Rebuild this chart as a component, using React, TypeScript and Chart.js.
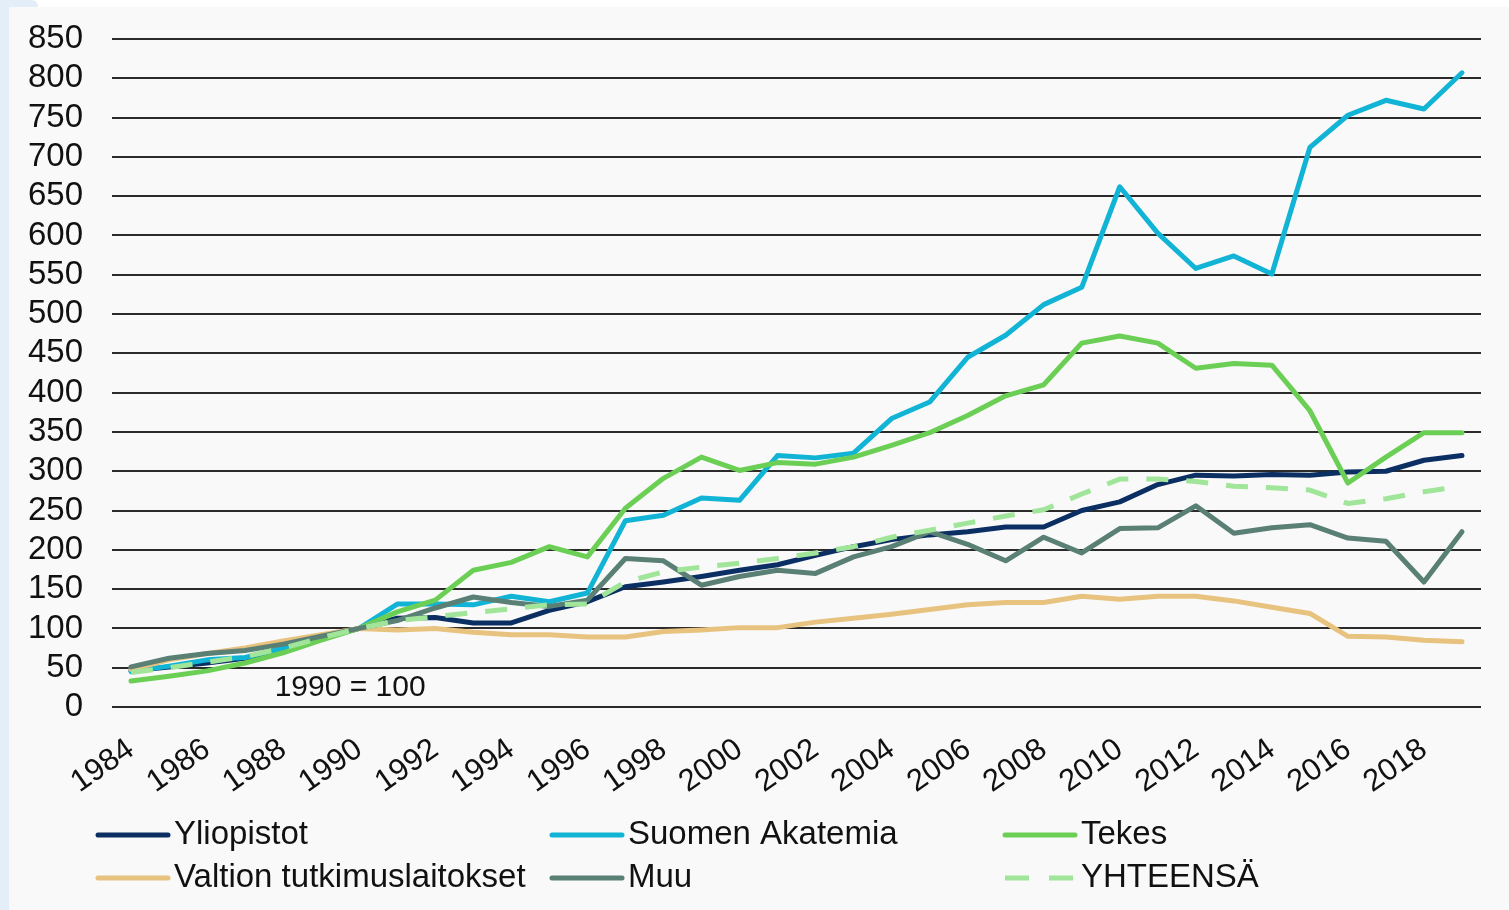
import { useEffect, useRef } from "react";
import { Chart, registerables } from "chart.js";
Chart.register(...registerables);

const years = [
  "1984", "1985", "1986", "1987", "1988", "1989", "1990", "1991", "1992", "1993",
  "1994", "1995", "1996", "1997", "1998", "1999", "2000", "2001", "2002", "2003",
  "2004", "2005", "2006", "2007", "2008", "2009", "2010", "2011", "2012", "2013",
  "2014", "2015", "2016", "2017", "2018", "2019",
];

const yliopistot = [46, 51, 56, 62, 74, 87, 100, 113, 114, 107, 107, 123, 134, 153, 159, 166, 174, 181, 193, 204, 213, 219, 223, 229, 229, 250, 261, 283, 295, 294, 296, 295, 299, 300, 314, 320];
const suomenAkatemia = [45, 52, 60, 63, 75, 88, 100, 131, 131, 130, 141, 134, 145, 237, 244, 266, 263, 320, 317, 323, 367, 388, 445, 473, 512, 534, 662, 603, 558, 574, 551, 712, 753, 772, 761, 807];
const tekes = [33, 39, 46, 56, 69, 85, 100, 121, 136, 174, 184, 204, 191, 253, 291, 318, 301, 311, 309, 318, 333, 349, 371, 396, 410, 463, 472, 463, 431, 437, 435, 377, 285, 318, 349, 349];
const valtion = [48, 60, 68, 75, 84, 92, 100, 98, 100, 95, 92, 92, 89, 89, 96, 98, 101, 101, 108, 113, 118, 124, 130, 133, 133, 141, 137, 141, 141, 135, 127, 119, 90, 89, 85, 83];
const muu = [51, 62, 68, 72, 80, 90, 100, 110, 126, 140, 133, 128, 136, 189, 186, 155, 166, 174, 170, 191, 204, 223, 207, 186, 216, 196, 227, 228, 256, 221, 228, 232, 215, 211, 159, 223];
const yhteensa = [44, 50, 57, 64, 75, 88, 100, 110, 115, 120, 125, 130, 131, 159, 172, 178, 183, 189, 196, 204, 216, 225, 234, 243, 251, 271, 290, 290, 287, 281, 279, 276, 259, 265, 274, 281];

const seriesNames = ["Yliopistot", "Suomen Akatemia", "Tekes", "Valtion tutkimuslaitokset", "Muu", "YHTEENSÄ"];
const seriesColors = ["#0b2f63", "#12b4d6", "#6ccf55", "#e8c27f", "#5a7f74", "#a0e59a"];
const seriesDashed = [false, false, false, false, false, true];
const annotationText = "1990 = 100";

const FONT = "'Liberation Sans', Arial, sans-serif";

export default function App() {
  const ref = useRef<HTMLCanvasElement>(null);

  useEffect(() => {
    document.body.style.margin = "0";
    const canvas = ref.current;
    if (!canvas) return;
    const values = [yliopistot, suomenAkatemia, tekes, valtion, muu, yhteensa];

    const legendPlugin = {
      id: "customLegend",
      afterDraw(chart: any) {
        const ctx = chart.ctx;
        const colX = [96, 550, 1003];
        const rowY = [835, 878];
        ctx.save();
        chart.data.datasets.forEach((ds: any, i: number) => {
          const x = colX[i % 3];
          const y = rowY[Math.floor(i / 3)];
          const dashed = ds.borderDash && ds.borderDash.length;
          ctx.beginPath();
          ctx.strokeStyle = ds.borderColor;
          ctx.lineWidth = 5;
          ctx.lineCap = dashed ? "butt" : "round";
          ctx.setLineDash(dashed ? [24, 20] : []);
          ctx.moveTo(x + 2, y);
          ctx.lineTo(x + 72, y);
          ctx.stroke();
          ctx.setLineDash([]);
          ctx.fillStyle = "#111";
          ctx.font = `33px ${FONT}`;
          ctx.textAlign = "left";
          ctx.textBaseline = "middle";
          ctx.fillText(ds.label, x + 78, y);
        });
        const xs = chart.scales.x;
        const ys = chart.scales.y;
        ctx.font = `30px ${FONT}`;
        ctx.fillStyle = "#111";
        ctx.textAlign = "center";
        ctx.textBaseline = "middle";
        ctx.fillText(annotationText, xs.getPixelForValue(6) - 9, ys.getPixelForValue(24));
        ctx.restore();
      },
    };

    const chart = new Chart(canvas, {
      type: "line",
      data: {
        labels: years,
        datasets: seriesNames.map((name, i) => ({
          label: name,
          data: values[i],
          borderColor: seriesColors[i],
          backgroundColor: seriesColors[i],
          borderWidth: 5,
          borderDash: seriesDashed[i] ? [22, 18] : [],
          borderCapStyle: seriesDashed[i] ? "butt" : "round",
          borderJoinStyle: "round",
          pointRadius: 0,
          tension: 0,
          fill: false,
          order: 6 - i,
        })) as any,
      },
      options: {
        responsive: false,
        animation: false,
        devicePixelRatio: 1,
        layout: { padding: { top: 39, right: 28, left: 0, bottom: 0 } },
        plugins: { legend: { display: false }, tooltip: { enabled: false } },
        scales: {
          x: {
            type: "category",
            offset: true,
            grid: { display: false },
            border: { display: false },
            ticks: {
              autoSkip: false,
              maxRotation: 35,
              minRotation: 35,
              padding: 16,
              color: "#111",
              font: { family: FONT, size: 31 },
              callback: (_v: any, idx: number) => (idx % 2 === 0 ? years[idx] : ""),
            },
            afterFit: (s: any) => {
              s.height = 203;
              s.paddingTop = 0;
              s.paddingBottom = 0;
            },
          },
          y: {
            min: 0,
            max: 850,
            ticks: {
              autoSkip: false,
              stepSize: 50,
              padding: 29,
              color: "#111",
              font: { family: FONT, size: 33 },
            },
            grid: { color: "#2b2b2b", lineWidth: 2, drawTicks: false },
            border: { display: false },
            afterFit: (s: any) => {
              s.width = 112;
              s.paddingTop = 0;
              s.paddingBottom = 0;
            },
          },
        },
      } as any,
      plugins: [legendPlugin],
    });
    return () => chart.destroy();
  }, []);

  return (
    <div style={{ position: "relative", width: 1509, height: 910, background: "#ffffff", overflow: "hidden" }}>
      <div style={{ position: "absolute", left: 0, top: 0, width: 9, height: 910, background: "#e3eef8" }} />
      <div style={{ position: "absolute", left: 0, top: 0, width: 38, height: 7, background: "#e3eef8", borderTopRightRadius: 6 }} />
      <div style={{ position: "absolute", left: 9, top: 7, width: 1500, height: 903, background: "#f9f9f9" }} />
      <canvas ref={ref} width={1509} height={910} style={{ position: "absolute", left: 0, top: 0, display: "block" }} />
    </div>
  );
}
